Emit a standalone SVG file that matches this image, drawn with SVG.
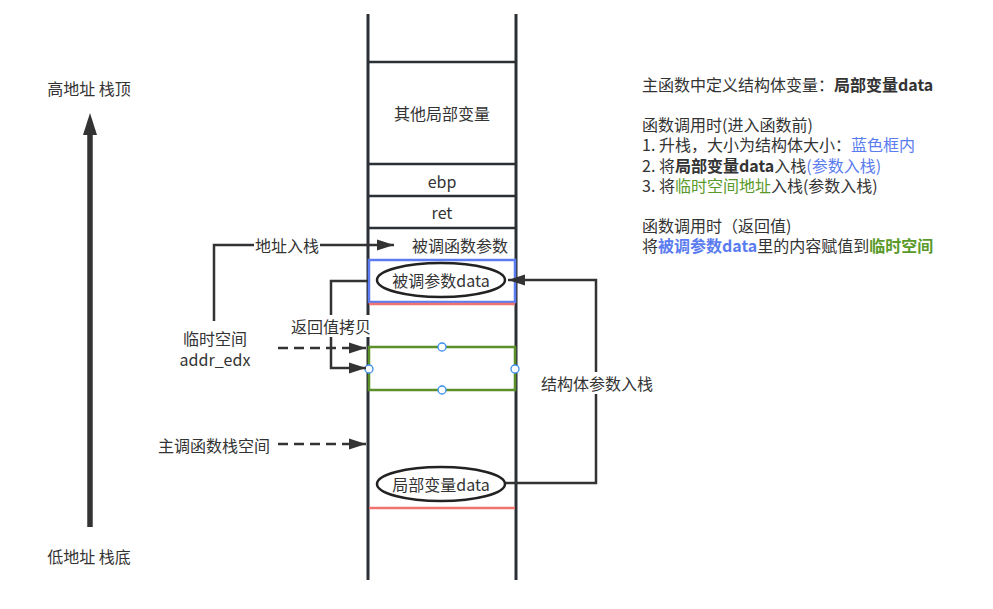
<svg xmlns="http://www.w3.org/2000/svg" width="993" height="609" viewBox="0 0 993 609">
<style>
text{font-family:"Noto Sans CJK SC","Noto Sans",sans-serif;font-size:16px;fill:#333;}
.c{text-anchor:middle;dominant-baseline:central;}
.stk{stroke:#2b2f36;stroke-width:3;fill:none;}
.hl{stroke:#2b2f36;stroke-width:2.5;fill:none;}
.con{stroke:#333;stroke-width:2.5;fill:none;}
.dash{stroke:#333;stroke-width:2.5;fill:none;stroke-dasharray:10 6;}
.bg{fill:#fff;}
.h{fill:#fff;stroke:#3a8ef0;stroke-width:1.3;}
.b{font-weight:bold;}
.blue{fill:#5b7cf0;}
.green{fill:#5a9a2a;}
</style>
<defs>
<marker id="ah" markerUnits="userSpaceOnUse" markerWidth="18" markerHeight="12" refX="17" refY="6" orient="auto">
<path d="M0,0.5 L17,6 L0,11.5 z" fill="#333"/>
</marker>
</defs>
<rect width="993" height="609" fill="#fff"/>

<g id="stack">
<line class="stk" x1="368" y1="14" x2="368" y2="580"/>
<line class="stk" x1="516" y1="14" x2="516" y2="580"/>
<line class="hl" x1="368" y1="62" x2="516" y2="62"/>
<line class="hl" x1="368" y1="164" x2="516" y2="164"/>
<line class="hl" x1="368" y1="196" x2="516" y2="196"/>
<line class="hl" x1="368" y1="228" x2="516" y2="228"/>
</g>
<g id="other-locals"><text class="c" x="442" y="113">其他局部变量</text></g>
<g id="ebp"><text class="c" x="442" y="181">ebp</text></g>
<g id="ret"><text class="c" x="442" y="212">ret</text></g>
<g id="callee-params"><text class="c" x="460" y="245">被调函数参数</text></g>

<g id="blue-box">
<rect x="369" y="260" width="146" height="42" fill="none" stroke="#5b7cf0" stroke-width="2.5"/>
<line x1="369" y1="304" x2="515" y2="304" stroke="#ee7470" stroke-width="2.5"/>
</g>
<g id="callee-data">
<ellipse cx="441" cy="280" rx="64" ry="17" fill="#fff" stroke="#222" stroke-width="2.5"/>
<text class="c" x="441" y="280">被调参数data</text>
</g>

<g id="temp-space">
<rect x="369" y="347" width="146" height="43" fill="none" stroke="#5b8f2a" stroke-width="2.5"/>
<circle class="h" cx="442" cy="347" r="4"/>
<circle class="h" cx="369" cy="369" r="4"/>
<circle class="h" cx="515" cy="369" r="4"/>
<circle class="h" cx="442" cy="390" r="4"/>
</g>

<g id="local-data">
<ellipse cx="441" cy="484" rx="64" ry="17" fill="#fff" stroke="#222" stroke-width="2.5"/>
<text class="c" x="441" y="484">局部变量data</text>
</g>
<g id="bottom-line"><line x1="369" y1="508" x2="515" y2="508" stroke="#ee7470" stroke-width="2.5"/></g>

<g id="big-arrow">
<line x1="90" y1="527" x2="90" y2="132" stroke="#333" stroke-width="5.5"/>
<path d="M83,135 L90,113 L97,135 z" fill="#333"/>
</g>
<g id="high-label"><text class="c" x="89" y="88">高地址 栈顶</text></g>
<g id="low-label"><text class="c" x="89" y="556">低地址 栈底</text></g>

<g id="temp-label">
<text class="c" x="215" y="338">临时空间</text>
<text class="c" x="215" y="359">addr_edx</text>
</g>
<g id="main-stack-label"><text class="c" x="214" y="445">主调函数栈空间</text></g>

<g id="connectors">
<polyline class="con" points="214,321 214,245 394,245" marker-end="url(#ah)"/>
<polyline class="con" points="368,281 331,281 331,368 366,368" marker-end="url(#ah)"/>
<line class="dash" x1="278" y1="348" x2="366" y2="348" marker-end="url(#ah)"/>
<line class="dash" x1="278" y1="444" x2="366" y2="444" marker-end="url(#ah)"/>
<polyline class="con" points="506,483 596,483 596,280 508,280" marker-end="url(#ah)"/>
<rect class="bg" x="254" y="234" width="66" height="22"/>
<text class="c" x="287" y="245">地址入栈</text>
<rect class="bg" x="290" y="315" width="82" height="22"/>
<text class="c" x="331" y="326">返回值拷贝</text>
<rect class="bg" x="539" y="372" width="116" height="22"/>
<text class="c" x="597" y="383">结构体参数入栈</text>
</g>

<g id="notes">
<text x="642" y="91">主函数中定义结构体变量：<tspan class="b">局部变量data</tspan></text>
<text x="642" y="131">函数调用时(进入函数前)</text>
<text x="642" y="151">1. 升栈，大小为结构体大小：<tspan class="blue">蓝色框内</tspan></text>
<text x="642" y="172">2. 将<tspan class="b">局部变量data</tspan>入栈<tspan class="blue">(参数入栈)</tspan></text>
<text x="642" y="192">3. 将<tspan class="green">临时空间地址</tspan>入栈(参数入栈)</text>
<text x="642" y="232">函数调用时（返回值)</text>
<text x="642" y="252">将<tspan class="b blue">被调参数data</tspan>里的内容赋值到<tspan class="b green">临时空间</tspan></text>
</g>
</svg>
